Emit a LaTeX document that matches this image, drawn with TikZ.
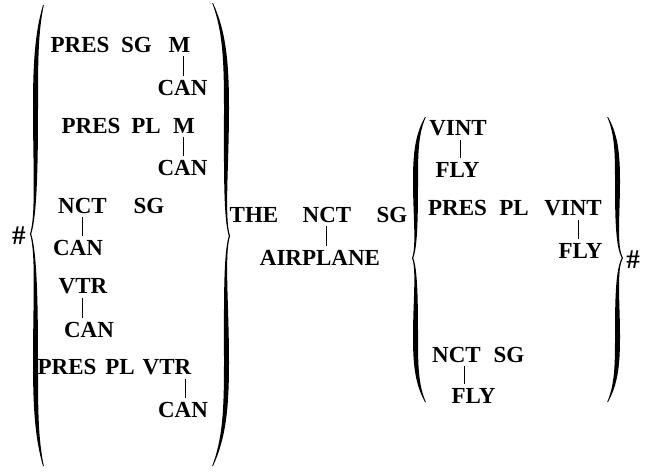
\documentclass[tikz,border=0pt]{standalone}
\usepackage{fontspec}
\setmainfont{Liberation Serif}
\newcommand\BigBrace[7]{%
  \pgfmathsetmacro\La{#3-#2}\pgfmathsetmacro\Lb{#4-#3}%
  \begin{scope}[shift={(#1,0)},xscale=#5]
  \fill (0,#2) .. controls (-0.8*#6,#2+0.12*\La) and (-#6,#2+0.25*\La) .. (-#6,#2+0.45*\La)
    .. controls (-#6,#2+0.7*\La) and (-0.7*#6,#3-0.08*\La) .. (-#7,#3)
    .. controls (-0.7*#6,#3+0.08*\Lb) and (-#6,#3+0.3*\Lb) .. (-#6,#3+0.55*\Lb)
    .. controls (-#6,#4-0.25*\Lb) and (-0.8*#6,#4-0.12*\Lb) .. (0,#4)
    -- (0.8,#4)
    .. controls (-0.8*#6+3,#4-0.12*\Lb) and (-#6+5,#4-0.25*\Lb) .. (-#6+5,#3+0.55*\Lb)
    .. controls (-#6+5,#3+0.3*\Lb) and (-0.7*#6+1,#3+0.08*\Lb) .. (-#7+1.2,#3)
    .. controls (-0.7*#6+1,#3-0.08*\La) and (-#6+5,#2+0.7*\La) .. (-#6+5,#2+0.45*\La)
    .. controls (-#6+5,#2+0.25*\La) and (-0.8*#6+3,#2+0.12*\La) .. (0.8,#2) -- cycle;
  \end{scope}}
\begin{document}
\begin{tikzpicture}[x=1pt,y=-1pt,
  wd/.style={anchor=base, inner xsep=0pt, inner ysep=4pt, font=\fontsize{23}{28}\selectfont\bfseries},
  hashmark/.style={anchor=center, inner sep=0pt, font=\fontsize{27}{29}\selectfont\bfseries},
  conn/.style={line width=0.8pt}]
\path[use as bounding box] (0,0) rectangle (650,471);
% braces
\BigBrace{43}{5}{234}{466}{1}{10}{13}
\BigBrace{213}{3}{236}{466}{-1}{16}{17}
\BigBrace{425}{117}{258}{402}{1}{12}{13}
\BigBrace{608}{117}{258}{402}{-1}{12}{15}
% hashes
\node[hashmark] (h1) at (19,236) {\#};
\node[hashmark] (h2) at (633,260) {\#};
% group 1
\node[wd] (p1) at (80,52) {PRES};
\node[wd] (s1) at (136.5,52) {SG};
\node[wd] (m1) at (179.5,52) {M};
\node[wd] (c1) at (182.5,95) {CAN};
\node[wd] (p2) at (91,133) {PRES};
\node[wd] (l2) at (146,133) {PL};
\node[wd] (m2) at (184,133) {M};
\node[wd] (c2) at (182.5,175) {CAN};
\node[wd] (n3) at (82.5,213) {NCT};
\node[wd] (s3) at (149,213) {SG};
\node[wd] (c3) at (78,255) {CAN};
\node[wd] (v4) at (83,293) {VTR};
\node[wd] (c4) at (89,337) {CAN};
\node[wd] (p5) at (67,374) {PRES};
\node[wd] (l5) at (120,374) {PL};
\node[wd] (v5) at (167,374) {VTR};
\node[wd] (c5) at (183,417) {CAN};
% middle
\node[wd] (the) at (254,222) {THE};
\node[wd] (nm) at (327,222) {NCT};
\node[wd] (sm) at (392,222) {SG};
\node[wd] (air) at (320,265) {AIRPLANE};
% group 2
\node[wd] (vi1) at (458,135) {VINT};
\node[wd] (f1) at (457.5,177) {FLY};
\node[wd] (p6) at (457.5,215) {PRES};
\node[wd] (l6) at (514,215) {PL};
\node[wd] (vi2) at (573,215) {VINT};
\node[wd] (f2) at (580.5,258) {FLY};
\node[wd] (n7) at (456.5,362) {NCT};
\node[wd] (s7) at (509,362) {SG};
\node[wd] (f3) at (473.5,403) {FLY};
% connectors (xshift places each stroke where the reference has it)
\foreach \a/\b/\s in {m1/c1/4,m2/c2/-1,n3/c3/0,v4/c4/-1,v5/c5/18,nm/air/-1,vi1/f1/2,vi2/f2/5,n7/f3/7.5}
  \draw[conn] ([xshift=\s pt]\a.south) -- ([xshift=\s pt]\a.south |- \b.north);
\end{tikzpicture}
\end{document}
